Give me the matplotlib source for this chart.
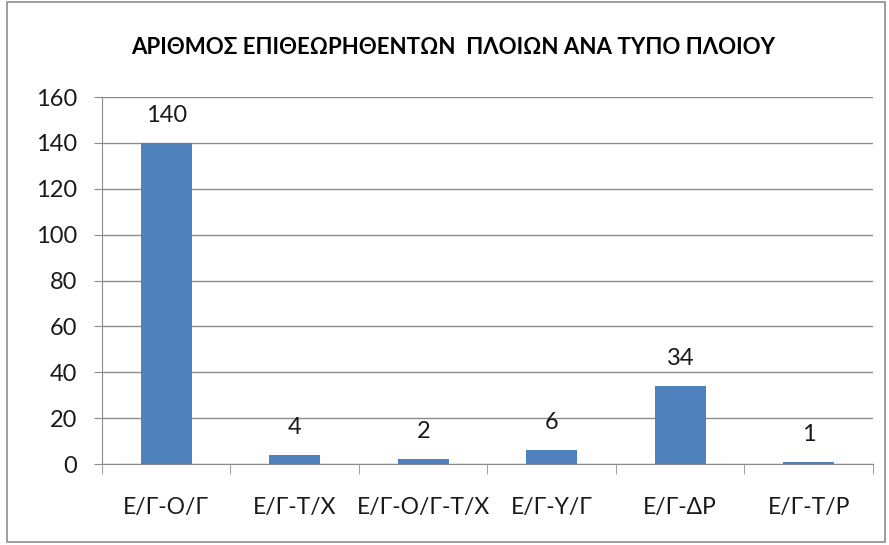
import matplotlib
matplotlib.use("Agg")
import matplotlib.pyplot as plt
from matplotlib.patches import Rectangle

categories = ["Ε/Γ-Ο/Γ", "Ε/Γ-Τ/Χ", "Ε/Γ-Ο/Γ-Τ/Χ", "Ε/Γ-Υ/Γ", "Ε/Γ-ΔΡ", "Ε/Γ-Τ/Ρ"]
values = [140, 4, 2, 6, 34, 1]
title = "ΑΡΙΘΜΟΣ ΕΠΙΘΕΩΡΗΘΕΝΤΩΝ  ΠΛΟΙΩΝ ΑΝΑ ΤΥΠΟ ΠΛΟΙΟΥ"

plt.rcParams['font.family'] = ['Lato', 'Open Sans', 'DejaVu Sans']

fig = plt.figure(figsize=(8.89, 5.45), dpi=100)
ax = fig.add_axes([0.1147, 0.1486, 0.8673, 0.6734])

x = range(len(categories))
ax.bar(x, values, width=0.4, color="#4f81bd", zorder=3)
for xi, v in zip(x, values):
    ax.text(xi, v + 12, str(v), ha="center", va="center", fontsize=17, color="#1a1a1a")

ax.set_xlim(-0.5, len(categories) - 0.5)
ax.set_ylim(0, 160)
ax.set_yticks(range(0, 161, 20))
ax.grid(axis="y", color="#8c8c8c", linewidth=1, zorder=0)
ax.set_xticks(x)
ax.set_xticklabels(categories, fontsize=16.5, color="#1a1a1a")
ax.set_xticks([i - 0.5 for i in range(len(categories) + 1)], minor=True)
ax.tick_params(axis="x", which="major", length=0, pad=24)
ax.tick_params(axis="x", which="minor", length=7, color="#8c8c8c")
ax.tick_params(axis="y", length=6, color="#8c8c8c", labelsize=17, labelcolor="#1a1a1a", pad=12)
for s in ["top", "right"]:
    ax.spines[s].set_visible(False)
for s in ["left", "bottom"]:
    ax.spines[s].set_color("#8c8c8c")

fig.text(0.51, 0.912, title, ha="center", va="center", fontsize=16, fontweight="bold")
fig.patches.append(Rectangle((0.008, 0.006), 0.987, 0.99, transform=fig.transFigure,
                             fill=False, edgecolor="#8c8c8c", linewidth=1.2))

fig.savefig("out.png", dpi=100)
